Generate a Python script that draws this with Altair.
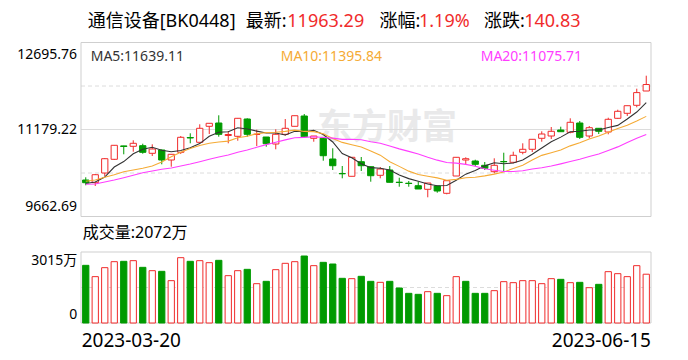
import altair as alt
import pandas as pd

# ---------------- data ----------------
dates = [
    "2023-03-20", "2023-03-21", "2023-03-22", "2023-03-23", "2023-03-24",
    "2023-03-27", "2023-03-28", "2023-03-29", "2023-03-30", "2023-03-31",
    "2023-04-03", "2023-04-04", "2023-04-06", "2023-04-07", "2023-04-10",
    "2023-04-11", "2023-04-12", "2023-04-13", "2023-04-14", "2023-04-17",
    "2023-04-18", "2023-04-19", "2023-04-20", "2023-04-21", "2023-04-24",
    "2023-04-25", "2023-04-26", "2023-04-27", "2023-04-28", "2023-05-04",
    "2023-05-05", "2023-05-08", "2023-05-09", "2023-05-10", "2023-05-11",
    "2023-05-12", "2023-05-15", "2023-05-16", "2023-05-17", "2023-05-18",
    "2023-05-19", "2023-05-22", "2023-05-23", "2023-05-24", "2023-05-25",
    "2023-05-26", "2023-05-29", "2023-05-30", "2023-05-31", "2023-06-01",
    "2023-06-02", "2023-06-05", "2023-06-06", "2023-06-07", "2023-06-08",
    "2023-06-09", "2023-06-12", "2023-06-13", "2023-06-14", "2023-06-15",
]
opens = [10298.8, 10251.8, 10420.9, 10659.7, 10893.0, 10886.3, 10896.8, 10764.3, 10821.8, 10647.5,
         10781.7, 11039.7, 10956.0, 11234.9, 11292.5, 11074.6, 11060.6, 11362.2, 11092.0, 11048.4,
         10926.4, 11095.5, 11234.9, 11414.5, 11025.8, 11025.8, 10664.9, 10412.2, 10363.3, 10617.8,
         10530.7, 10380.8, 10473.2, 10260.5, 10243.1, 10199.5, 10136.7, 10194.2, 10067.0, 10368.6,
         10647.5, 10630.0, 10555.1, 10443.6, 10621.3, 10607.4, 10781.7, 10834.0, 11025.8, 11065.8,
         11170.4, 11130.3, 11292.5, 11065.8, 11200.1, 11135.6, 11374.4, 11461.6, 11601.0, 11850.3]
highs = [10345.9, 10403.4, 10682.0, 10909.0, 10895.0, 10990.9, 10931.6, 10921.2, 10830.0, 10752.0,
         11065.8, 11112.9, 11269.8, 11292.0, 11426.7, 11153.0, 11379.7, 11374.4, 11175.7, 11048.4,
         11182.7, 11362.2, 11419.7, 11449.4, 11065.8, 11025.8, 10851.4, 10542.9, 10699.8, 10699.8,
         10534.0, 10525.5, 10542.9, 10338.9, 10281.4, 10269.2, 10246.5, 10194.2, 10289.9, 10699.8,
         10694.6, 10652.7, 10612.6, 10677.1, 10774.7, 10792.2, 10938.6, 11008.3, 11147.8, 11222.7,
         11228.0, 11374.4, 11327.3, 11240.2, 11200.1, 11384.8, 11524.3, 11594.0, 11890.4, 12117.0]
lows = [10206.5, 10194.2, 10368.6, 10647.5, 10746.8, 10792.2, 10757.3, 10717.2, 10572.5, 10530.7,
        10752.1, 10938.6, 10952.0, 11100.7, 11053.6, 10938.6, 10983.9, 11053.6, 10891.5, 10879.3,
        10834.0, 11071.1, 11234.9, 11036.2, 10966.5, 10635.3, 10473.2, 10328.5, 10363.3, 10455.7,
        10269.2, 10328.5, 10258.7, 10182.0, 10182.0, 10142.0, 9997.3, 10077.5, 10049.6, 10368.6,
        10577.8, 10537.6, 10473.2, 10415.6, 10450.5, 10590.0, 10746.8, 10786.9, 10966.5, 11013.6,
        11140.8, 11112.9, 11013.6, 11025.8, 11100.7, 11095.5, 11362.2, 11414.5, 11566.1, 11850.3]
closes = [10251.8, 10391.2, 10670.1, 10903.7, 10883.0, 10938.6, 10781.7, 10839.2, 10647.5, 10746.8,
          11043.2, 11031.0, 11200.1, 11287.2, 11095.5, 11092.0, 11374.4, 11095.5, 11099.0, 10931.6,
          11095.5, 11200.1, 11419.7, 11053.6, 11065.8, 10722.4, 10548.1, 10406.9, 10694.6, 10548.1,
          10373.8, 10490.6, 10258.7, 10255.3, 10237.8, 10142.0, 10246.5, 10107.1, 10286.6, 10694.6,
          10670.1, 10572.5, 10502.8, 10555.1, 10616.1, 10729.4, 10834.0, 11008.3, 11100.7, 11147.8,
          11140.8, 11304.7, 11043.2, 11210.6, 11147.8, 11357.0, 11496.4, 11594.0, 11822.46, 11963.29]
# volume in 万
volumes = [2449, 1968, 2350, 2604, 2619, 2647, 2364, 2222, 2194, 1798,
           2774, 2619, 2647, 2562, 2661, 2010, 2222, 2279, 1670, 1769,
           2265, 2534, 2604, 2845, 2435, 2576, 2505, 1897, 1883, 1982,
           1769, 1727, 1769, 1486, 1260, 1217, 1331, 1260, 1161, 1968,
           1769, 1260, 1260, 1373, 1755, 1713, 1798, 1798, 1670, 1883,
           1854, 1713, 1727, 1500, 1642, 2180, 2095, 1968, 2435, 2072]
# volume bar colour as drawn: 1 = red (up), 0 = green (down)
vol_up = [0, 1, 1, 1, 0, 1, 0, 1, 0, 1, 1, 0, 1, 1, 0, 1, 1, 0, 1, 0,
          1, 1, 1, 0, 1, 0, 0, 0, 1, 0, 0, 1, 0, 0, 0, 0, 1, 0, 1, 1,
          0, 0, 0, 1, 1, 1, 1, 1, 1, 1, 0, 1, 0, 1, 0, 1, 1, 1, 1, 1]
# moving-average values visible before the window is full
ma5_head = [10237.8, 10264.0, 10351.1, 10525.5]
ma10_head = [10276.2, 10298.9, 10345.9, 10391.2, 10443.5, 10473.2, 10502.9, 10542.9, 10612.6]
ma20_head = [10223.9, 10229.1, 10264.0, 10298.8, 10338.9, 10380.8, 10426.1, 10455.7, 10485.4, 10508.0,
             10542.9, 10577.8, 10617.8, 10659.7, 10699.8, 10734.6, 10781.7, 10821.8, 10868.9]

stock_name = "通信设备[BK0448]"
latest = "11963.29"
pct = "1.19%"
change = "140.83"
ma_labels = ["MA5:11639.11", "MA10:11395.84", "MA20:11075.71"]
price_ticks = [12695.76, 11179.22, 9662.69]
vol_max = 3015
vol_label = "成交量:2072万"
vol_tick_labels = ["3015万", "0"]

# ---------------- styling ----------------
RED = "#f02b2b"
GREEN = "#009a00"
MA_COLORS = ["#333333", "#f5ab35", "#ff3dff"]
FONT = "Noto Sans, Noto Sans CJK SC"
GRID = "#dcdcdc"
FRAME = "#cfcfcf"

n = len(dates)
df = pd.DataFrame({"i": list(range(n)), "date": dates, "open": opens, "high": highs,
                   "low": lows, "close": closes, "vol": volumes, "vup": vol_up})
up = df["close"] >= df["open"]
df["fill"] = ["#ffffff" if u else GREEN for u in up]
df["stroke"] = [RED if u else GREEN for u in up]
df["vfill"] = ["#ffffff" if v else GREEN for v in vol_up]
df["vstroke"] = [RED if v else GREEN for v in vol_up]

cs = pd.Series(closes)
ma5 = cs.rolling(5).mean().tolist()
ma10 = cs.rolling(10).mean().tolist()
ma20 = cs.rolling(20).mean().tolist()
ma5[:len(ma5_head)] = ma5_head
ma10[:len(ma10_head)] = ma10_head
ma20[:len(ma20_head)] = ma20_head
ma_rows = []
for name, arr, col in zip(["MA5", "MA10", "MA20"], [ma5, ma10, ma20], MA_COLORS):
    for k in range(n):
        ma_rows.append({"i": k, "ma": arr[k], "name": name, "col": col})
ma_df = pd.DataFrame(ma_rows)

# ---------------- scales ----------------
XS = alt.Scale(domain=[-0.5, n - 0.5], range=[73, 643], nice=False, zero=False)
PS = alt.Scale(domain=[price_ticks[2], price_ticks[0]], range=[208.5, 34.5], nice=False, zero=False)
VS = alt.Scale(domain=[0, vol_max], range=[315, 244], nice=False, zero=False)

base = alt.Chart(df)

frame_df = pd.DataFrame({"x0": [-0.5], "x1": [n - 0.5], "p0": [price_ticks[2]], "p1": [price_ticks[0]],
                         "v0": [0], "v1": [vol_max]})
price_frame = alt.Chart(frame_df).mark_rect(fillOpacity=0, stroke=FRAME, strokeWidth=1).encode(
    x=alt.X("x0:Q", scale=XS, axis=None), x2="x1:Q",
    y=alt.Y("p0:Q", scale=PS, axis=None), y2="p1:Q")
vol_frame = alt.Chart(frame_df).mark_rect(fillOpacity=0, stroke=FRAME, strokeWidth=1).encode(
    x=alt.X("x0:Q", scale=XS, axis=None), x2="x1:Q",
    y=alt.Y("v0:Q", scale=VS, axis=None), y2="v1:Q")

mid = (price_ticks[0] + price_ticks[2]) / 2
q = (price_ticks[0] - price_ticks[2]) / 4
grid_solid = alt.Chart(pd.DataFrame({"p": [mid], "x0": [-0.5], "x1": [n - 0.5]})).mark_rule(
    color=GRID, strokeWidth=1).encode(
    x=alt.X("x0:Q", scale=XS, axis=None), x2="x1:Q", y=alt.Y("p:Q", scale=PS, axis=None))
grid_dash = alt.Chart(pd.DataFrame({"p": [mid - q, mid + q], "x0": [-0.5] * 2, "x1": [n - 0.5] * 2})).mark_rule(
    color=GRID, strokeWidth=1, strokeDash=[4, 3]).encode(
    x=alt.X("x0:Q", scale=XS, axis=None), x2="x1:Q", y=alt.Y("p:Q", scale=PS, axis=None))
vgrid = alt.Chart(pd.DataFrame({"v": [vol_max / 2], "x0": [-0.5], "x1": [n - 0.5]})).mark_rule(
    color=GRID, strokeWidth=1, strokeDash=[4, 3]).encode(
    x=alt.X("x0:Q", scale=XS, axis=None), x2="x1:Q", y=alt.Y("v:Q", scale=VS, axis=None))

watermark = alt.Chart(pd.DataFrame({"t": ["东方财富"]})).mark_text(
    font=FONT, fontSize=35, fontWeight="bold", color="#e9e9ea", align="center", baseline="middle").encode(
    text="t:N", x=alt.value(379), y=alt.value(120))

half = 0.33
wicks = base.mark_rule(strokeWidth=1).encode(
    x=alt.X("i:Q", scale=XS, axis=None),
    y=alt.Y("low:Q", scale=PS, axis=None), y2="high:Q",
    color=alt.Color("stroke:N", scale=None))
bodies = base.transform_calculate(xa=f"datum.i - {half}", xb=f"datum.i + {half}").mark_rect(strokeWidth=1).encode(
    x=alt.X("xa:Q", scale=XS, axis=None), x2="xb:Q",
    y=alt.Y("open:Q", scale=PS, axis=None), y2="close:Q",
    fill=alt.Fill("fill:N", scale=None), stroke=alt.Stroke("stroke:N", scale=None))
vbars = base.transform_calculate(xa=f"datum.i - {half}", xb=f"datum.i + {half}", z="0").mark_rect(strokeWidth=1).encode(
    x=alt.X("xa:Q", scale=XS, axis=None), x2="xb:Q",
    y=alt.Y("z:Q", scale=VS, axis=None), y2="vol:Q",
    fill=alt.Fill("vfill:N", scale=None), stroke=alt.Stroke("vstroke:N", scale=None))

ma_lines = alt.Chart(ma_df).mark_line(strokeWidth=1.1).encode(
    x=alt.X("i:Q", scale=XS, axis=None),
    y=alt.Y("ma:Q", scale=PS, axis=None),
    color=alt.Color("col:N", scale=None), detail="name:N", order="i:Q")

def txt(s, x, y, size, color="#000000", align="left", weight="normal"):
    return alt.Chart(pd.DataFrame({"t": [s]})).mark_text(
        font=FONT, fontSize=size, color=color, align=align, baseline="middle", fontWeight=weight).encode(
        text="t:N", x=alt.value(x), y=alt.value(y))

# title
title_y = 14
title_parts = [
    (stock_name, 79.7, "#000000"), ("最新:", 237.7, "#000000"), (latest, 279.3, RED),
    ("涨幅:", 371.5, "#000000"), (pct, 411, RED), ("涨跌:", 475.9, "#000000"), (change, 516.2, RED)]
title_layers = [txt(s, x, title_y, 18, c) for s, x, c in title_parts]

legend_layers = [txt(ma_labels[0], 82.7, 49, 14, MA_COLORS[0]),
                 txt(ma_labels[1], 272.7, 49, 14, MA_COLORS[1]),
                 txt(ma_labels[2], 472.7, 49, 14, MA_COLORS[2])]

tick_df = pd.DataFrame({"p": price_ticks, "t": [f"{v:.2f}" for v in price_ticks]})
tick_layers = []
for k, dy in zip(range(3), [12.5, 0, -10]):
    tick_layers.append(alt.Chart(tick_df.iloc[[k]]).mark_text(
        font=FONT, fontSize=14, color="#000000", align="right", baseline="middle", dy=dy).encode(
        text="t:N", x=alt.value(69), y=alt.Y("p:Q", scale=PS, axis=None)))
vt_df = pd.DataFrame({"v": [vol_max, 0], "t": vol_tick_labels})
vtick_layers = [
    alt.Chart(vt_df.iloc[[0]]).mark_text(font=FONT, fontSize=14, color="#000000", align="right",
                                          baseline="middle", dy=9).encode(
        text="t:N", x=alt.value(69.3), y=alt.Y("v:Q", scale=VS, axis=None)),
    alt.Chart(vt_df.iloc[[1]]).mark_text(font=FONT, fontSize=14, color="#000000", align="right",
                                          baseline="middle", dy=-8).encode(
        text="t:N", x=alt.value(69.3), y=alt.Y("v:Q", scale=VS, axis=None)),
]
other_text = [txt(vol_label, 74.7, 225, 16),
              txt(dates[0], 73.7, 333, 19),
              txt(dates[-1], 643, 333, 19, align="right")]

chart = alt.layer(
    watermark, grid_solid, grid_dash, vgrid, price_frame, vol_frame,
    vbars, wicks, bodies, ma_lines,
    *title_layers, *legend_layers, *tick_layers, *vtick_layers, *other_text,
).resolve_scale(y="independent").properties(
    width=672, height=344, autosize=alt.AutoSizeParams(type="none"), padding=0,
    background="#ffffff",
).configure_view(stroke=None)

chart.save("out.html", embed_options={"renderer": "svg", "actions": False})
